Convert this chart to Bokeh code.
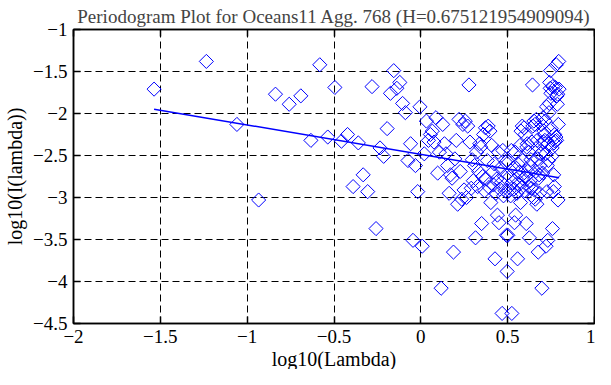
import math
from bokeh.plotting import figure
from bokeh.models import Range1d, LinearAxis, FixedTicker, Title
from bokeh.embed import file_html
from bokeh.resources import INLINE

title_text = "Periodogram Plot for Oceans11 Agg. 768 (H=0.675121954909094)"
x_label = "log10(Lambda)"
y_label = "log10(I(lambda))"

x_ticks = [-2, -1.5, -1, -0.5, 0, 0.5, 1]
x_tick_labels = ["\u22122", "\u22121.5", "\u22121", "\u22120.5", "0", "0.5", "1"]
y_ticks = [-4.5, -4, -3.5, -3, -2.5, -2, -1.5, -1]
y_tick_labels = ["\u22124.5", "\u22124", "\u22123.5", "\u22123", "\u22122.5", "\u22122", "\u22121.5", "\u22121"]

# log10(Lambda) of each periodogram ordinate
log_lambda = [
    -1.536, -1.235, -1.059, -0.934, -0.837, -0.758, -0.691, -0.633, -0.582, -0.536,
    -0.495, -0.457, -0.422, -0.390, -0.360, -0.332, -0.306, -0.281, -0.258, -0.235,
    -0.214, -0.194, -0.175, -0.156, -0.138, -0.121, -0.105, -0.089, -0.074, -0.059,
    -0.045, -0.031, -0.018, -0.005, 0.008, 0.020, 0.032, 0.044, 0.055, 0.066,
    0.076, 0.087, 0.097, 0.107, 0.117, 0.126, 0.136, 0.145, 0.154, 0.163,
    0.171, 0.180, 0.188, 0.196, 0.204, 0.212, 0.220, 0.227, 0.235, 0.242,
    0.249, 0.256, 0.263, 0.270, 0.277, 0.283, 0.290, 0.296, 0.302, 0.309,
    0.315, 0.321, 0.327, 0.333, 0.339, 0.345, 0.350, 0.356, 0.361, 0.367,
    0.372, 0.377, 0.383, 0.388, 0.393, 0.398, 0.403, 0.408, 0.413, 0.418,
    0.423, 0.427, 0.432, 0.437, 0.441, 0.446, 0.450, 0.455, 0.459, 0.464,
    0.468, 0.472, 0.476, 0.481, 0.485, 0.489, 0.493, 0.497, 0.501, 0.505,
    0.509, 0.513, 0.517, 0.521, 0.524, 0.528, 0.532, 0.536, 0.539, 0.543,
    0.546, 0.550, 0.553, 0.557, 0.560, 0.564, 0.567, 0.571, 0.574, 0.577,
    0.581, 0.584, 0.587, 0.591, 0.594, 0.597, 0.600, 0.603, 0.607, 0.610,
    0.613, 0.616, 0.619, 0.622, 0.625, 0.628, 0.631, 0.634, 0.637, 0.640,
    0.643, 0.645, 0.648, 0.651, 0.654, 0.657, 0.659, 0.662, 0.665, 0.668,
    0.670, 0.673, 0.676, 0.678, 0.681, 0.684, 0.686, 0.689, 0.691, 0.694,
    0.697, 0.699, 0.702, 0.704, 0.707, 0.709, 0.711, 0.714, 0.716, 0.719,
    0.721, 0.724, 0.726, 0.728, 0.731, 0.733, 0.735, 0.738, 0.740, 0.742,
    0.745, 0.747, 0.749, 0.751, 0.754, 0.756, 0.758, 0.760, 0.763, 0.765,
    0.767, 0.769, 0.771, 0.773, 0.775, 0.778, 0.780, 0.782, 0.784, 0.786,
    0.788, 0.790, 0.792, 0.794, 0.796,
]

# log10(I(lambda))
log_periodogram = [
    -1.71, -1.38, -2.13, -3.03, -1.77, -1.89, -1.79, -2.32, -1.42, -2.28,
    -1.69, -2.33, -2.25, -2.87, -2.35, -2.73, -2.93, -1.68, -3.37, -2.41,
    -2.51, -2.18, -1.76, -1.49, -1.70, -1.63, -1.88, -1.99, -2.56, -2.36,
    -3.51, -2.62, -2.93, -1.92, -3.58, -2.48, -2.09, -2.32, -2.25, -2.21,
    -2.34, -2.05, -2.71, -2.46, -4.08, -2.13, -2.36, -2.48, -2.62, -2.95,
    -2.73, -2.77, -3.65, -2.54, -2.32, -3.08, -2.07, -2.69, -3.02, -2.13,
    -2.91, -2.09, -3.00, -2.15, -1.66, -2.34, -2.89, -2.55, -2.80, -2.62,
    -3.48, -2.46, -2.87, -2.69, -2.36, -2.40, -3.31, -2.75, -2.25, -2.92,
    -2.17, -2.78, -2.56, -2.15, -2.88, -2.21, -3.06, -2.38, -2.70, -2.85,
    -2.60, -3.73, -2.95, -2.78, -3.21, -2.46, -3.30, -2.90, -2.65, -2.82,
    -4.38, -2.44, -2.98, -2.75, -2.92, -2.58, -3.45, -3.88, -3.45, -2.58,
    -2.92, -2.75, -2.98, -2.44, -4.38, -2.82, -2.65, -2.90, -3.30, -2.46,
    -3.21, -2.78, -2.95, -3.73, -2.60, -2.85, -2.70, -2.38, -3.06, -2.21,
    -2.88, -2.15, -2.56, -2.78, -2.17, -2.92, -2.25, -2.75, -3.31, -2.40,
    -2.36, -2.69, -2.87, -2.46, -3.48, -2.62, -2.80, -2.55, -2.89, -2.34,
    -1.66, -2.15, -3.00, -2.09, -2.91, -2.13, -3.02, -2.69, -2.07, -3.08,
    -2.32, -2.54, -3.65, -2.77, -2.73, -2.95, -2.62, -2.48, -2.36, -2.13,
    -4.08, -2.46, -2.71, -2.05, -2.34, -2.21, -2.25, -2.32, -2.09, -2.48,
    -3.58, -1.92, -2.93, -2.62, -3.51, -2.36, -2.56, -1.99, -1.88, -1.63,
    -1.70, -1.49, -1.76, -2.18, -2.51, -2.41, -3.37, -1.68, -2.93, -2.73,
    -2.35, -2.87, -2.25, -2.33, -1.69, -2.28, -1.42, -2.32, -1.79, -1.89,
    -1.77, -3.03, -2.13, -1.38, -1.71,
]

# least-squares line (slope = 1 - 2H)
fit_intercept = -2.486
fit_slope = -0.3502

FONT = "Liberation Serif"

p = figure(width=595, height=369, x_range=Range1d(-2, 1), y_range=Range1d(-4.5, -1),
           output_backend="svg", toolbar_location=None, title=title_text,
           min_border_left=73, min_border_right=1, min_border_top=0, min_border_bottom=0)
p.background_fill_color = "white"
p.border_fill_color = "white"
p.outline_line_color = "black"
p.outline_line_width = 1.5

p.title.text_font = FONT
p.title.text_font_size = "19px"
p.title.text_font_style = "normal"
p.title.align = "center"
p.title.standoff = 6
p.title.offset = 0

xtick_over = {t: l for t, l in zip(x_ticks, x_tick_labels)}
ytick_over = {t: l for t, l in zip(y_ticks, y_tick_labels)}

def style_axis(ax, ticks, overrides, show_labels):
    ax.ticker = FixedTicker(ticks=ticks)
    ax.major_tick_in = 7
    ax.major_tick_out = 0
    ax.major_tick_line_width = 1.5
    ax.minor_tick_line_color = None
    ax.axis_line_width = 1.5
    ax.axis_line_color = "black"
    ax.major_tick_line_color = "black"
    if show_labels:
        ax.major_label_overrides = overrides
        ax.major_label_text_font = FONT
        ax.major_label_text_font_size = "19px"
        ax.major_label_text_color = "black"
        ax.major_label_standoff = 6
        ax.axis_label_text_font = FONT
        ax.axis_label_text_font_size = "20px"
        ax.axis_label_text_font_style = "normal"
        ax.axis_label_text_color = "black"
    else:
        ax.major_label_text_font_size = "0px"
        ax.major_label_text_color = None
        ax.major_label_standoff = 0

p.yaxis.axis_label = y_label
style_axis(p.xaxis[0], x_ticks, xtick_over, True)
style_axis(p.yaxis[0], y_ticks, ytick_over, True)
p.yaxis.axis_label_standoff = 4
p.xaxis.major_label_standoff = 6

xlabel_title = Title(text=x_label, align="center", text_font=FONT, text_font_size="20px",
                     text_font_style="normal", text_color="black", standoff=0, offset=0)
p.add_layout(xlabel_title, "below")

top_ax = LinearAxis()
style_axis(top_ax, x_ticks, xtick_over, False)
p.add_layout(top_ax, "above")
right_ax = LinearAxis()
style_axis(right_ax, y_ticks, ytick_over, False)
p.add_layout(right_ax, "right")

p.xgrid.ticker = FixedTicker(ticks=x_ticks)
p.ygrid.ticker = FixedTicker(ticks=y_ticks)
for g in (p.xgrid, p.ygrid):
    g.grid_line_color = "black"
    g.grid_line_dash = "7 4"
    g.grid_line_width = 1
    g.grid_line_alpha = 1.0

p.scatter(log_lambda, log_periodogram, marker="square", angle=math.pi / 4, size=10,
          fill_color=None, line_color="blue", line_width=1)

fit_x = [log_lambda[0], log_lambda[-1]]
fit_y = [fit_intercept + fit_slope * v for v in fit_x]
p.line(fit_x, fit_y, line_color="blue", line_width=1.5)

open("out.html", "w").write(file_html(p, INLINE))
